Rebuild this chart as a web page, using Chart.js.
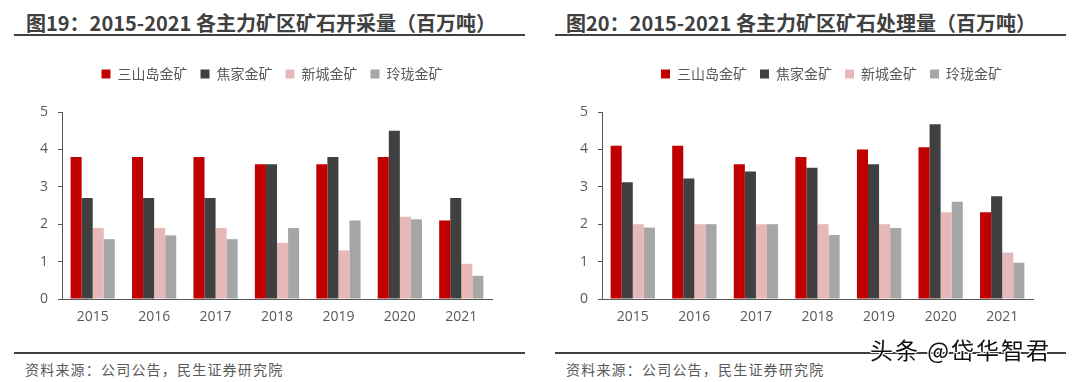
<!DOCTYPE html>
<html>
<head>
<meta charset="utf-8">
<script src="https://cdn.jsdelivr.net/npm/chart.js@4/dist/chart.umd.min.js"></script>
<style>
  html, body { margin: 0; padding: 0; background: #ffffff; }
  body { width: 1080px; height: 382px; position: relative; overflow: hidden; }
  .title { position: absolute; top: 9px; font-family: "Noto Sans CJK SC", "Noto Sans", sans-serif; font-weight: bold; font-size: 20px; color: #404040; white-space: nowrap; line-height: 28px; }
  .rule { position: absolute; height: 2px; background: #404040; }
  .source { position: absolute; top: 359px; font-family: "Noto Sans CJK SC", sans-serif; font-size: 14px; color: #595959; white-space: nowrap; line-height: 20px; letter-spacing: 1.2px; }
  .wm { position: absolute; left: 870px; top: 334px; font-family: "Noto Sans CJK SC", sans-serif; font-size: 23px; color: #111; white-space: nowrap; line-height: 30px; letter-spacing: 2px;
        text-shadow: 1px 1px 0 #fff, -1px -1px 0 #fff, 1px -1px 0 #fff, -1px 1px 0 #fff; }
  canvas { position: absolute; }
</style>
</head>
<body>
<div class="title" style="left:26px;">图19：2015-2021 各主力矿区矿石开采量（百万吨）</div>
<div class="rule" style="left:14px; width:511px; top:34px;"></div>
<div class="title" style="left:566px;">图20：2015-2021 各主力矿区矿石处理量（百万吨）</div>
<div class="rule" style="left:555px; width:511px; top:34px;"></div>

<canvas id="c1" width="540" height="281" style="left:0px; top:54px;"></canvas>
<canvas id="c2" width="540" height="281" style="left:540px; top:54px;"></canvas>

<div class="rule" style="left:14px; width:511px; top:352px;"></div>
<div class="rule" style="left:555px; width:511px; top:352px;"></div>
<div class="source" style="left:25px;">资料来源：公司公告，民生证券研究院</div>
<div class="source" style="left:566px;">资料来源：公司公告，民生证券研究院</div>
<div class="wm">头条 @岱华智君</div>

<script>
// ---- data ----
const years = ['2015', '2016', '2017', '2018', '2019', '2020', '2021'];
const mineNames = ['三山岛金矿', '焦家金矿', '新城金矿', '玲珑金矿'];
const yTickValues = [0, 1, 2, 3, 4, 5];

// 图19 开采量（百万吨）
const sanshandaoMined = [3.8, 3.8, 3.8, 3.6, 3.6, 3.8, 2.1];
const jiaojiaMined    = [2.7, 2.7, 2.7, 3.6, 3.8, 4.5, 2.7];
const xinchengMined   = [1.9, 1.9, 1.9, 1.5, 1.3, 2.2, 0.94];
const linglongMined   = [1.6, 1.7, 1.6, 1.9, 2.1, 2.13, 0.62];

// 图20 处理量（百万吨）
const sanshandaoProcessed = [4.1, 4.1, 3.6, 3.8, 4.0, 4.06, 2.32];
const jiaojiaProcessed    = [3.12, 3.22, 3.41, 3.51, 3.6, 4.67, 2.75];
const xinchengProcessed   = [2.0, 2.0, 2.0, 2.0, 2.0, 2.32, 1.24];
const linglongProcessed   = [1.91, 2.0, 2.0, 1.71, 1.9, 2.6, 0.97];

// ---- style ----
const seriesColors = ['#C00000', '#404040', '#E6B8B7', '#A6A6A6'];
const axisColor = '#595959';
const textColor = '#595959';
const tickFont = { family: "'Open Sans', 'Noto Sans CJK SC', sans-serif", size: 14 };
const legendFont = { family: "'Noto Sans CJK SC', sans-serif", size: 14 };

const legendTweak = {
  id: 'legendTweak',
  beforeLayout(chart, args, opts) {
    const lg = chart.legend;
    if (lg && !lg.__tw) {
      const f = lg.fit;
      lg.fit = function () { f.call(this); this.height += (opts.extra || 0); };
      lg.__tw = true;
    }
  },
  afterLayout(chart, args, opts) {
    const lg = chart.legend;
    if (!lg) return;
    lg.left += (opts.shift || 0);
    lg.right += (opts.shift || 0);
  }
};

function makeChart(id, seriesList, padRight, axisWidth, legendShift) {
  const datasets = seriesList.map((vals, i) => ({
    label: mineNames[i],
    data: vals,
    backgroundColor: seriesColors[i],
    borderWidth: 0,
    categoryPercentage: 0.72,
    barPercentage: 1.0
  }));
  return new Chart(document.getElementById(id), {
    type: 'bar',
    data: { labels: years, datasets },
    plugins: [legendTweak],
    options: {
      responsive: false,
      animation: false,
      devicePixelRatio: 1,
      layout: { padding: { left: 0, right: padRight, top: 0, bottom: 0 } },
      plugins: {
        legendTweak: { extra: 21, shift: legendShift },
        legend: {
          position: 'top',
          align: 'center',
          labels: {
            boxWidth: 9,
            boxHeight: 9,
            padding: 13,
            color: textColor,
            font: legendFont
          }
        },
        tooltip: { enabled: false }
      },
      scales: {
        x: {
          grid: { display: true, drawOnChartArea: false, drawTicks: false },
          border: { display: true, color: axisColor, width: 1 },
          ticks: { color: textColor, font: tickFont, padding: 10, maxRotation: 0 },
          afterFit(s) { s.height = 36; }
        },
        y: {
          min: yTickValues[0],
          max: yTickValues[yTickValues.length - 1],
          afterBuildTicks(s) { s.ticks = yTickValues.map(v => ({ value: v })); },
          grid: { display: true, drawOnChartArea: false, drawTicks: true, tickLength: 4, color: axisColor },
          border: { display: true, color: axisColor, width: 1 },
          ticks: { color: textColor, font: tickFont, padding: 10 },
          afterFit(s) { s.width = axisWidth; }
        }
      }
    }
  });
}

makeChart('c1', [sanshandaoMined, jiaojiaMined, xinchengMined, linglongMined], 48, 62, 26);
makeChart('c2', [sanshandaoProcessed, jiaojiaProcessed, xinchengProcessed, linglongProcessed], 47, 62, 45);
</script>
</body>
</html>
